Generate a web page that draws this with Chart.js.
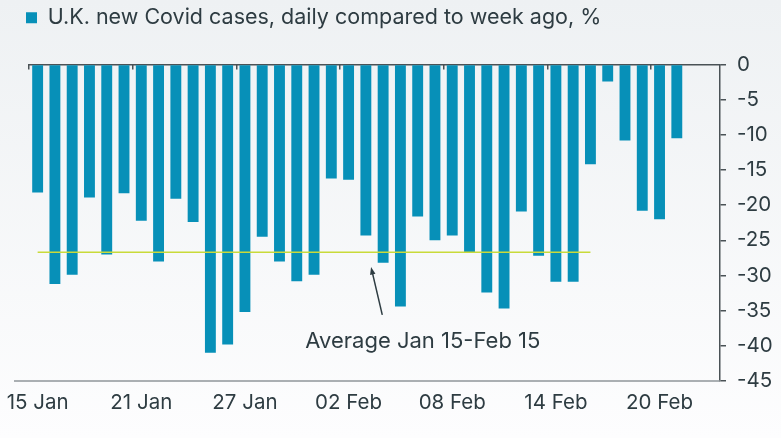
<!DOCTYPE html>
<html>
<head>
<meta charset="utf-8">
<script src="https://cdn.jsdelivr.net/npm/chart.js@4.4.1/dist/chart.umd.min.js"></script>
<style>
html, body { margin: 0; padding: 0; }
body { width: 781px; height: 438px; overflow: hidden; background: linear-gradient(#eef1f3, #fdfdfe); }
</style>
</head>
<body>
<canvas id="chart" width="781" height="438"></canvas>
<script>
// one category per day, 15 Jan .. 23 Feb (last two days have no figure yet)
const days = [
  '15 Jan', '16 Jan', '17 Jan', '18 Jan', '19 Jan', '20 Jan', '21 Jan', '22 Jan', '23 Jan', '24 Jan',
  '25 Jan', '26 Jan', '27 Jan', '28 Jan', '29 Jan', '30 Jan', '31 Jan', '01 Feb', '02 Feb', '03 Feb',
  '04 Feb', '05 Feb', '06 Feb', '07 Feb', '08 Feb', '09 Feb', '10 Feb', '11 Feb', '12 Feb', '13 Feb',
  '14 Feb', '15 Feb', '16 Feb', '17 Feb', '18 Feb', '19 Feb', '20 Feb', '21 Feb', '22 Feb', '23 Feb'
]

// % change of new cases vs same day a week earlier
const weekChange = [
  -18.2, -31.2, -29.9, -18.9, -27.0, -18.3, -22.2, -28.0, -19.1, -22.4,
  -41.0, -39.8, -35.2, -24.5, -28.0, -30.8, -29.9, -16.2, -16.4, -24.3,
  -28.2, -34.4, -21.6, -25.0, -24.3, -26.8, -32.4, -34.7, -20.9, -27.2,
  -30.9, -30.9, -14.2, -2.4, -10.8, -20.8, -22.0, -10.5, null, null
]

const averageValue = -26.7
const averageFrom = '15 Jan'
const averageTo = '16 Feb'

const yTicks = [0, -5, -10, -15, -20, -25, -30, -35, -40, -45]

const seriesName = 'U.K. new Covid cases, daily compared to week ago, %'
const noteText = 'Average Jan 15-Feb 15'

const ink = '#2e3c42'
const barBlue = '#0790b8'
const fontFamily = 'Inter, "Noto Sans", sans-serif'

const fromIdx = days.indexOf(averageFrom)
const toIdx = days.indexOf(averageTo)
const averageLine = days.map((d, i) => (i >= fromIdx && i <= toIdx ? averageValue : null))

//note text and arrow, placed in data units (category index, %)
const note = {textX: 22.3, textY: -39.3, arrowFromX: 19.95, arrowFromY: -35.6, arrowToX: 19.3, arrowToY: -28.8}

const notePlugin = {
  id: 'note',
  afterDatasetsDraw(chart) {
    const {ctx} = chart
    const x = chart.scales.x
    const y = chart.scales.y
    ctx.save()

    //bottom rule runs a little past the plot on the left
    ctx.strokeStyle = '#8f969a'
    ctx.lineWidth = 1.5
    ctx.beginPath()
    ctx.moveTo(x.left - 15, y.bottom)
    ctx.lineTo(x.right, y.bottom)
    ctx.stroke()

    ctx.fillStyle = ink
    ctx.font = '22px ' + fontFamily
    ctx.textAlign = 'center'
    ctx.textBaseline = 'middle'
    ctx.fillText(noteText, x.getPixelForValue(note.textX), y.getPixelForValue(note.textY))

    const x1 = x.getPixelForValue(note.arrowFromX), y1 = y.getPixelForValue(note.arrowFromY)
    const x2 = x.getPixelForValue(note.arrowToX), y2 = y.getPixelForValue(note.arrowToY)
    const ang = Math.atan2(y2 - y1, x2 - x1)
    ctx.strokeStyle = ink
    ctx.beginPath()
    ctx.moveTo(x1, y1)
    ctx.lineTo(x2 - Math.cos(ang) * 5, y2 - Math.sin(ang) * 5)
    ctx.stroke()
    ctx.beginPath()
    ctx.moveTo(x2, y2)
    ctx.lineTo(x2 - Math.cos(ang - 0.35) * 8, y2 - Math.sin(ang - 0.35) * 8)
    ctx.lineTo(x2 - Math.cos(ang + 0.35) * 8, y2 - Math.sin(ang + 0.35) * 8)
    ctx.closePath()
    ctx.fill()
    ctx.restore()
  }
}

new Chart(document.getElementById('chart'), {
  data: {
    labels: days,
    datasets: [
      {
        type: 'bar',
        label: seriesName,
        data: weekChange,
        backgroundColor: barBlue,
        barPercentage: 0.63,
        categoryPercentage: 1,
        order: 2
      },
      {
        type: 'line',
        label: 'average',
        data: averageLine,
        borderColor: '#c9da3a',
        borderWidth: 1.5,
        pointRadius: 0,
        order: 1
      }
    ]
  },
  options: {
    responsive: false,
    animation: false,
    layout: {padding: {left: 20, top: 1, right: 0, bottom: 0}},
    plugins: {
      legend: {
        position: 'top',
        align: 'start',
        labels: {
          boxWidth: 11,
          boxHeight: 11,
          padding: 6,
          color: ink,
          font: {family: fontFamily, size: 21.5},
          filter: item => item.datasetIndex === 0
        }
      },
      tooltip: {enabled: false}
    },
    scales: {
      x: {
        type: 'category',
        position: 'bottom',
        offset: true,
        grid: {display: false, drawTicks: false, tickLength: 0},
        border: {display: false},
        ticks: {
          autoSkip: false,
          maxRotation: 0,
          padding: 10,
          color: ink,
          font: {family: fontFamily, size: 20.5},
          callback: (v, i) => (i % 6 === 0 ? days[i] : null)
        },
        afterFit: s => { s.height = 57; s.paddingLeft = 29 }
      },
      xTop: {
        type: 'category',
        position: 'top',
        offset: true,
        grid: {
          offset: true,
          drawOnChartArea: false,
          drawTicks: true,
          tickLength: -5,
          lineWidth: 1.5,
          color: c => (c.index % 6 === 0 ? '#4a5256' : 'rgba(0,0,0,0)')
        },
        border: {display: true, color: '#4a5256', width: 1.5},
        ticks: {display: false, autoSkip: false},
        afterFit: s => { s.height = 26 }
      },
      y: {
        type: 'linear',
        position: 'right',
        min: -45,
        max: 0,
        afterBuildTicks: s => { s.ticks = yTicks.map(v => ({value: v})) },
        grid: {drawOnChartArea: false, drawTicks: true, tickLength: 6, lineWidth: 1.5, color: '#4a5256'},
        border: {display: true, color: '#4a5256', width: 1.5},
        ticks: {padding: 11, color: ink, font: {family: fontFamily, size: 20.5}},
        afterFit: s => { s.width = 61 }
      }
    }
  },
  plugins: [notePlugin]
})
</script>
</body>
</html>
